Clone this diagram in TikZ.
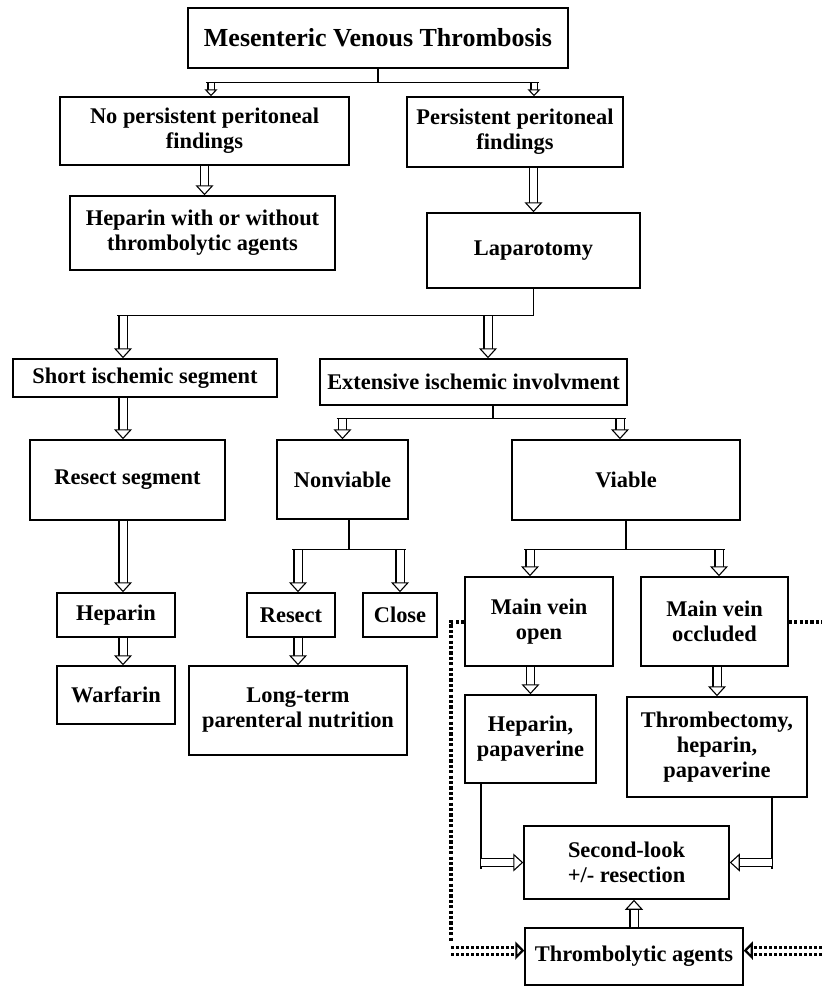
\documentclass[tikz,border=0pt]{standalone}
\usepackage{fontspec}
\setmainfont{Liberation Serif}
\usetikzlibrary{arrows.meta}

\tikzset{
  box/.style={draw, line width=0.75pt, align=center, inner sep=0pt,
    font=\bfseries\fontsize{11.2}{12.5}\selectfont},
  conn/.style={line width=0.7pt},
  hollow/.style={double, double distance=3.5pt, line width=0.55pt,
    -{Triangle[open, fill=white, length=5pt, width=9pt]}},
  hollowsm/.style={double, double distance=2.5pt, line width=0.55pt,
    -{Triangle[open, fill=white, length=3.5pt, width=6.5pt]}},
  dots/.style={line width=2pt, dash pattern=on 1.6pt off 1.1pt},
  dotarrow/.style={double, double distance=2pt, line width=1.5pt,
    dash pattern=on 1.4pt off 1.1pt,
    -{Triangle[open, fill=white, length=4.5pt, width=9pt, line width=1.1pt]}}
}

\begin{document}
\begin{tikzpicture}[x=0.5pt,y=-0.5pt]
\useasboundingbox (0,0) rectangle (822,987);

% boxes
\node[box, minimum width=190pt, minimum height=30pt,
  font=\bfseries\fontsize{13}{15}\selectfont] (mvt) at (378,38) {Mesenteric Venous Thrombosis};
\node[box, minimum width=144.5pt, minimum height=34pt] (nopers) at (204.5,131) {No persistent peritoneal\\findings};
\node[box, minimum width=108pt, minimum height=35pt] (pers) at (515,132) {Persistent peritoneal\\findings};
\node[box, minimum width=132.5pt, minimum height=37pt] (hepthr) at (202.5,233) {Heparin with or without\\thrombolytic agents};
\node[box, minimum width=106.5pt, minimum height=37.5pt] (lap) at (533.5,250.5) {Laparotomy};
\node[box, minimum width=132pt, minimum height=19pt] (short) at (145,378) {Short ischemic segment};
\node[box, minimum width=153.5pt, minimum height=23pt] (ext) at (473.5,382) {Extensive ischemic involvment};
\node[box, minimum width=97.5pt, minimum height=40pt] (resseg) at (127.5,480) {Resect segment};
\node[box, minimum width=65.5pt, minimum height=39.5pt] (nonv) at (342.5,479.5) {Nonviable};
\node[box, minimum width=114pt, minimum height=40pt] (viable) at (626,480) {Viable};
\node[box, minimum width=59pt, minimum height=22pt] (hep) at (116,615) {Heparin};
\node[box, minimum width=59pt, minimum height=29pt] (warf) at (116,695) {Warfarin};
\node[box, minimum width=44pt, minimum height=22pt] (resect) at (291,615) {Resect};
\node[box, minimum width=37pt, minimum height=22pt] (close) at (400,615) {Close};
\node[box, minimum width=109pt, minimum height=44.5pt] (ltpn) at (298,710.5) {Long-term\\parenteral nutrition};
\node[box, minimum width=74pt, minimum height=44.5pt] (vopen) at (539,621.5) {Main vein\\open};
\node[box, minimum width=73.5pt, minimum height=44.5pt] (vocc) at (714.5,621.5) {Main vein\\occluded};
\node[box, minimum width=65.5pt, minimum height=44pt] (heppap) at (530.5,739) {Heparin,\\papaverine};
\node[box, minimum width=90pt, minimum height=50pt] (thrombec) at (717,747) {Thrombectomy,\\heparin,\\papaverine};
\node[box, minimum width=102.5pt, minimum height=36.5pt] (second) at (626.5,862.5) {Second-look\\+/- resection};
\node[box, minimum width=109pt, minimum height=28.5pt] (lysis) at (634,956.5) {Thrombolytic agents};

% column points
\coordinate (colL) at (123,0);
\coordinate (edge) at (822,0);
\path ([xshift=3.25pt]nopers.north) coordinate (t1)
      ([xshift=9.5pt]pers.north) coordinate (t2)
      ([xshift=-11pt]short.north) coordinate (t3)
      ([xshift=7.25pt]ext.north) coordinate (t4)
      ([xshift=-3pt]viable.north) coordinate (t5)
      ([xshift=3.5pt]resect.north) coordinate (t6)
      ([xshift=-4.5pt]vopen.north) coordinate (t7)
      ([xshift=2.25pt]vocc.north) coordinate (t8);

% first split
\draw[conn] (mvt.south) -- ++(0,14) coordinate (s1);
\draw[conn, shorten <=-2.5pt, shorten >=-2.5pt] (s1 -| t1) -- (s1 -| t2);
\draw[hollowsm] (s1 -| t1) -- (t1);
\draw[hollowsm] (s1 -| t2) -- (t2);
\draw[hollow] (nopers.south) -- (nopers.south |- hepthr.north);
\draw[hollow] (pers.south -| lap.north) -- (lap.north);

% laparotomy split
\draw[conn] (lap.south) -- ++(0,27) coordinate (s2);
\draw[conn, shorten >=-3pt] (s2) -- (s2 -| t3);
\draw[hollow] (s2 -| t3) -- (t3);
\draw[hollow] (s2 -| t4) -- (t4);

% short segment column
\draw[hollow] (short.south -| colL) -- (resseg.north -| colL);
\draw[hollow] (resseg.south -| colL) -- (hep.north -| colL);
\draw[hollow] (hep.south -| colL) -- (warf.north -| colL);

% extensive split
\draw[conn] ([xshift=9.75pt]ext.south) -- ++(0,13) coordinate (s3);
\draw[conn, shorten <=-3pt, shorten >=-3pt] (s3 -| nonv.north) -- (s3 -| t5);
\draw[hollow] (s3 -| nonv.north) -- (nonv.north);
\draw[hollow] (s3 -| t5) -- (t5);

% nonviable split
\draw[conn] ([xshift=3.25pt]nonv.south) -- ++(0,30) coordinate (s4);
\draw[conn, shorten <=-3pt, shorten >=-3pt] (s4 -| t6) -- (s4 -| close.north);
\draw[hollow] (s4 -| t6) -- (t6);
\draw[hollow] (s4 -| close.north) -- (close.north);
\draw[hollow] (resect.south -| ltpn.north) -- (ltpn.north);

% viable split
\draw[conn] (viable.south) -- ++(0,29) coordinate (s5);
\draw[conn, shorten <=-3pt, shorten >=-3pt] (s5 -| t7) -- (s5 -| t8);
\draw[hollow] (s5 -| t7) -- (t7);
\draw[hollow] (s5 -| t8) -- (t8);
\draw[hollow] (vopen.south -| heppap.north) -- (heppap.north);
\draw[hollow] (vocc.south -| thrombec.north) -- (thrombec.north);

% second look
\draw[conn] ([xshift=-24.75pt]heppap.south) -- ++(0,85) coordinate (s6);
\draw[conn] ([xshift=27.5pt]thrombec.south) -- ++(0,71) coordinate (s7);
\draw[hollow] (second.west -| s6) -- (second.west);
\draw[hollow] (second.east -| s7) -- (second.east);
\draw[hollow] (lysis.north) -- (lysis.north |- second.south);

% thrombolytic loops
\coordinate (dl) at (451,942);
\draw[dots] (vopen.west) -| (dl);
\draw[dotarrow] ([yshift=3pt]lysis.west -| dl) -- ([yshift=3pt]lysis.west);
\draw[dots] (vocc.east) -- (vocc.east -| edge);
\draw[dotarrow] ([yshift=3pt]lysis.east -| edge) -- ([yshift=3pt]lysis.east);
\end{tikzpicture}
\end{document}
